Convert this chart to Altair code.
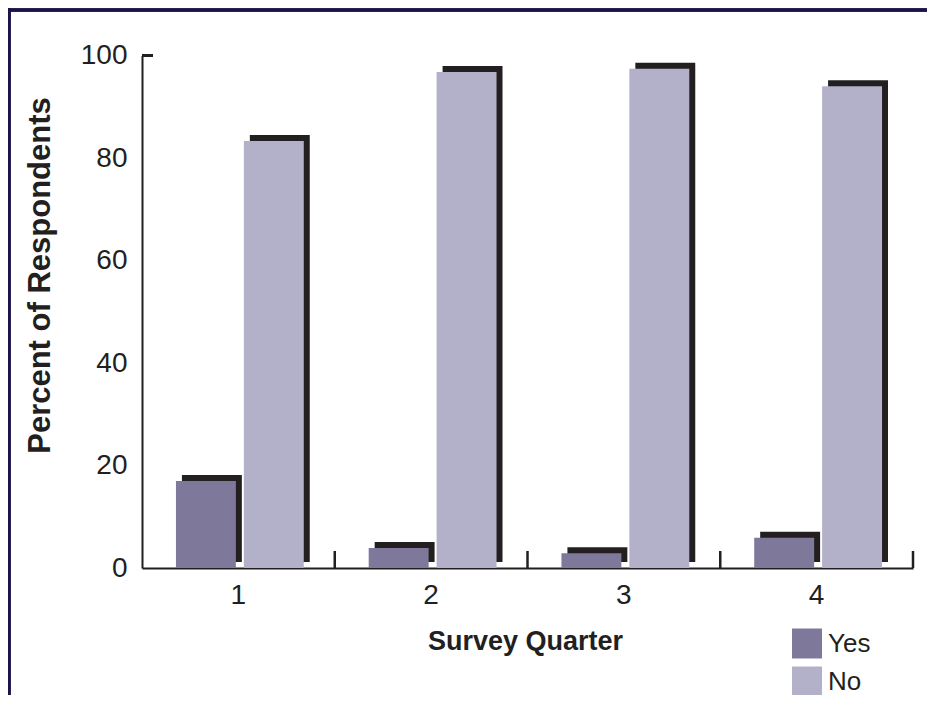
import altair as alt
import pandas as pd

# ---- data ----
quarters = ["1", "2", "3", "4"]
series = ["Yes", "No"]
yes_vals = [17.0, 3.9, 2.9, 5.9]
no_vals = [83.3, 96.8, 97.4, 94.0]
y_ticks = [0, 20, 40, 60, 80, 100]
colors = ["#7e789a", "#b3b1c9"]

rows = []
for q, yv, nv in zip(quarters, yes_vals, no_vals):
    rows.append({"quarter": q, "series": "Yes", "value": yv})
    rows.append({"quarter": q, "series": "No", "value": nv})
df = pd.DataFrame(rows)
qdf = pd.DataFrame({"quarter": quarters})

W, H = 771, 512.5
FONT = "Liberation Sans"
INK = "#231f20"
FRAME = "#1c1448"


def x_enc(band_pos=None):
    kw = {}
    if band_pos is not None:
        kw["bandPosition"] = band_pos
    return alt.X(
        "quarter:N",
        sort=quarters,
        scale=alt.Scale(paddingInner=0, paddingOuter=0),
        axis=alt.Axis(
            title="Survey Quarter",
            labelAngle=0,
            ticks=False,
            grid=False,
            domainColor=INK,
            domainWidth=2,
            labelFont=FONT,
            labelFontSize=28,
            labelColor=INK,
            labelPadding=13,
            titleFont=FONT,
            titleFontSize=27,
            titleFontWeight="bold",
            titleColor=INK,
            titleBaseline="alphabetic",
            titleX=383,
            titleY=81,
        ),
        **kw,
    )


y_enc = alt.Y(
    "value:Q",
    scale=alt.Scale(domain=[0, 100], nice=False),
    axis=alt.Axis(
        title="Percent of Respondents",
        values=y_ticks,
        ticks=False,
        grid=False,
        domainColor=INK,
        domainWidth=2,
        labelFont=FONT,
        labelFontSize=28,
        labelColor=INK,
        labelPadding=15,
        titleFont=FONT,
        titleFontSize=31,
        titleFontWeight="bold",
        titleColor=INK,
        titleBaseline="alphabetic",
        titleX=-93,
        titleY=219.5,
    ),
)


def xoff(align):
    return alt.XOffset(
        "series:N", sort=series,
        scale=alt.Scale(paddingInner=0.1176, paddingOuter=0.478, align=align),
    )


shadow = alt.Chart(df).mark_bar(
    color=INK, yOffset=-6, y2Offset=-6
).encode(x=x_enc(), xOffset=xoff(0.615), y=y_enc)

bars = alt.Chart(df).mark_bar().encode(
    x=x_enc(),
    xOffset=xoff(0.523),
    y=y_enc,
    color=alt.Color(
        "series:N",
        sort=series,
        scale=alt.Scale(domain=series, range=colors),
        legend=alt.Legend(
            title=None,
            orient="none",
            legendX=650,
            legendY=573,
            symbolType="square",
            symbolSize=900,
            symbolStrokeWidth=0,
            labelFont=FONT,
            labelFontSize=26,
            labelColor=INK,
            labelOffset=6,
            rowPadding=8,
            padding=0,
        ),
    ),
)

# upward tick marks at the band boundaries of the x axis
xticks = alt.Chart(qdf).mark_rule(color=INK, strokeWidth=2.5).encode(
    x=x_enc(1), y=alt.value(H), y2=alt.value(H - 17)
)

# small inward tick at the top of the y axis
ytop = alt.Chart(qdf).mark_rule(color=INK, strokeWidth=2.5).encode(
    x=alt.value(0), x2=alt.value(11), y=alt.value(0)
)

# frame lines (top and left)
frame_top = alt.Chart(qdf).mark_rule(color=FRAME, strokeWidth=3).encode(
    x=alt.value(-134), x2=alt.value(800), y=alt.value(-45.5)
)
frame_left = alt.Chart(qdf).mark_rule(color=FRAME, strokeWidth=3).encode(
    x=alt.value(-133), y=alt.value(-47), y2=alt.value(H + 140)
)

chart = alt.layer(
    frame_top, frame_left, shadow, bars, xticks, ytop
).resolve_scale(
    xOffset="independent"
).properties(
    width=W,
    height=H,
    autosize=alt.AutoSizeParams(type="none"),
    padding={"left": 134, "top": 47.5, "right": 14, "bottom": 127},
).configure_view(strokeWidth=0)

chart.save("out.html", embed_options={"renderer": "svg", "actions": False})
